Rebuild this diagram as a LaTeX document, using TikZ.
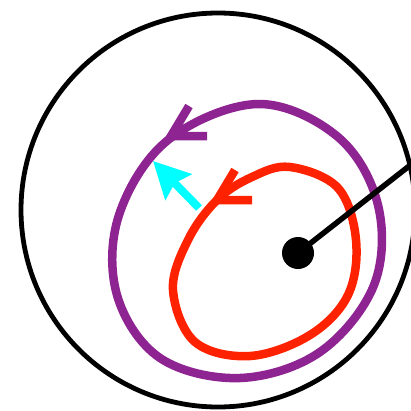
\documentclass[tikz,border=0pt]{standalone}
\usetikzlibrary{arrows.meta}
\definecolor{loopPurple}{RGB}{142,36,145}
\definecolor{loopRed}{RGB}{255,34,0}
\definecolor{arrCyan}{RGB}{0,255,255}
\tikzset{
  outerring/.style={draw=black,line width=4.8pt},
  purpleloop/.style={draw=loopPurple,line width=8.5pt},
  redloop/.style={draw=loopRed,line width=8.5pt},
  chevron/.style={line width=8.5pt,line cap=butt,line join=miter},
  radiusline/.style={draw=black,line width=5.5pt},
  cyanarrow/.style={draw=arrCyan,line width=8pt,-{Stealth[length=36pt,width=36pt,inset=5pt]}},
}
\begin{document}
\begin{tikzpicture}[x=1pt,y=-1pt]
\useasboundingbox (0,0) rectangle (411,410);
% outer circle
\draw[outerring] (218,210) circle (197);
% purple loop
\draw[purpleloop] plot[smooth cycle,tension=0.6] coordinates {
 (258,104) (338,137) (378,205) (374,285) (320,352) (240,378)
 (160,358) (117,295) (119,215) (168,140)};
\draw[chevron,draw=loopPurple] (189,106) -- (171,136) -- (207,136);
% red loop
\draw[redloop] plot[smooth cycle,tension=0.6] coordinates {
 (290,167) (338,188) (356,240) (348,295) (310,335) (250,356)
 (195,342) (173,290) (188,240) (217,200) (252,177)};
\draw[chevron,draw=loopRed] (235,170) -- (217,200) -- (252,200);
% central dot and radius line
\node[circle,fill=black,inner sep=0pt,minimum size=32pt] (dot) at (298,253) {};
\coordinate (rim) at (413,163);
\draw[radiusline] (dot.center) -- (rim);
% cyan arrow
\coordinate (cyS) at (199,208);
\coordinate (cyT) at (153,161);
\draw[cyanarrow] (cyS) -- (cyT);
\end{tikzpicture}
\end{document}
